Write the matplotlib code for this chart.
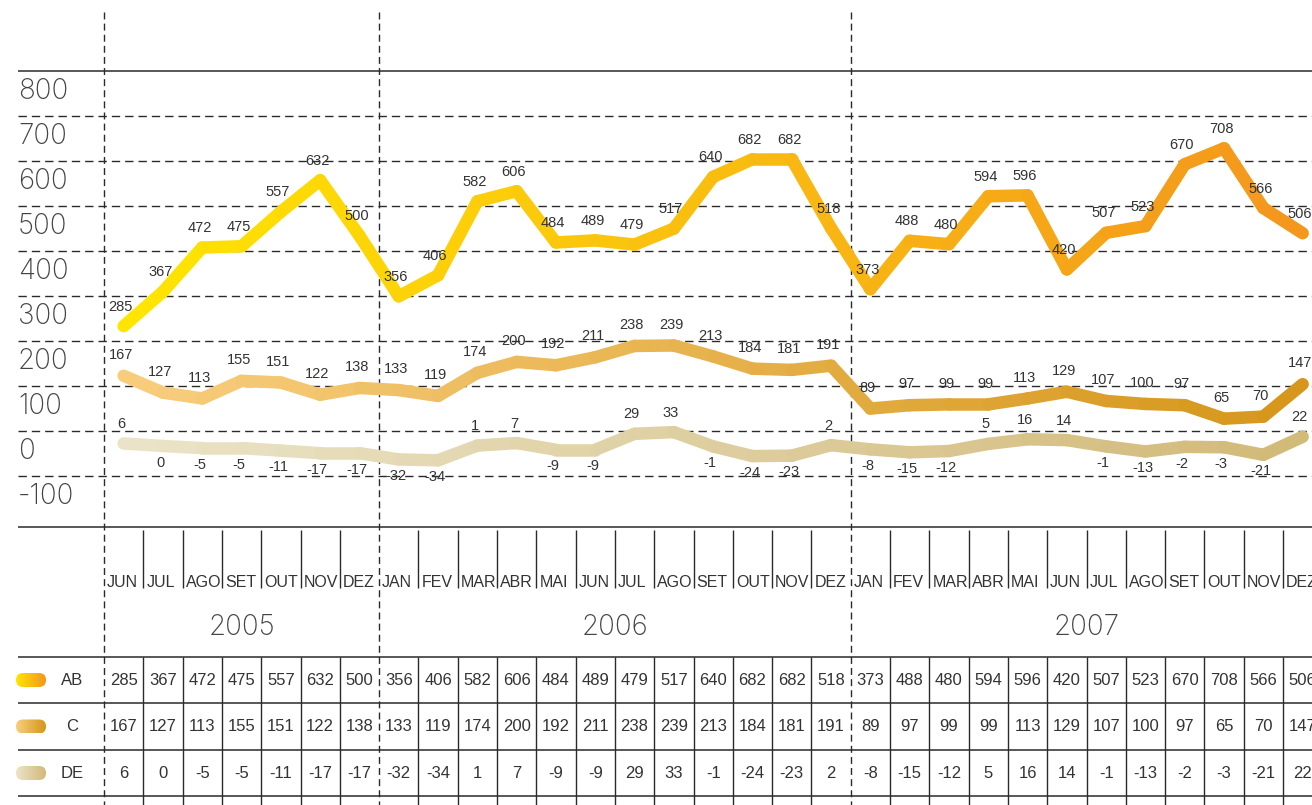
import numpy as np
import matplotlib
matplotlib.use("Agg")
import matplotlib.pyplot as plt
from matplotlib.collections import LineCollection
from matplotlib.patches import FancyBboxPatch
from matplotlib.colors import to_rgb
from matplotlib import font_manager as fm

# ---------------- data ----------------
months = ["JUN", "JUL", "AGO", "SET", "OUT", "NOV", "DEZ",
          "JAN", "FEV", "MAR", "ABR", "MAI", "JUN", "JUL", "AGO", "SET", "OUT", "NOV", "DEZ",
          "JAN", "FEV", "MAR", "ABR", "MAI", "JUN", "JUL", "AGO", "SET", "OUT", "NOV", "DEZ"]
years = ["2005", "2006", "2007"]
year_lengths = [7, 12, 12]
series_names = ["AB", "C", "DE"]
ab = [285, 367, 472, 475, 557, 632, 500,
      356, 406, 582, 606, 484, 489, 479, 517, 640, 682, 682, 518,
      373, 488, 480, 594, 596, 420, 507, 523, 670, 708, 566, 506]
c = [167, 127, 113, 155, 151, 122, 138,
     133, 119, 174, 200, 192, 211, 238, 239, 213, 184, 181, 191,
     89, 97, 99, 99, 113, 129, 107, 100, 97, 65, 70, 147]
de = [6, 0, -5, -5, -11, -17, -17,
      -32, -34, 1, 7, -9, -9, 29, 33, -1, -24, -23, 2,
      -8, -15, -12, 5, 16, 14, -1, -13, -2, -3, -21, 22]
y_ticks = [800, 700, 600, 500, 400, 300, 200, 100, 0, -100]

# ---------------- styling ----------------
grad_start = ["#FFE600", "#F8CE7E", "#EAE4C8"]
grad_end = ["#F3961E", "#D5961A", "#D2B978"]

W, H = 1312, 805
fig = plt.figure(figsize=(W / 100, H / 100), dpi=100)

names = {f.name for f in fm.fontManager.ttflist}
light_font = None
for cand in ["Inter", "Roboto", "Open Sans", "Lato"]:
    for f in fm.fontManager.ttflist:
        try:
            wt = int(f.weight)
        except Exception:
            wt = 400
        if f.name == cand and wt <= 300:
            light_font = cand
            break
    if light_font:
        break
base_font = "Liberation Sans" if "Liberation Sans" in names else "DejaVu Sans"
if light_font is None:
    light_font, light_w = base_font, "normal"
else:
    light_w = "light"
plt.rcParams["font.family"] = [base_font, "DejaVu Sans"]

# column geometry (pixel space of the reference)
col0, colw = 104.0, 39.3
first_center = col0 + colw / 2
xl = (-first_center / colw, (W - first_center) / colw)


def px2x(p):
    return (p - first_center) / colw


def new_axes():
    a = fig.add_axes([0, 0, 1, 1])
    a.set_xlim(*xl)
    a.axis("off")
    a.patch.set_visible(False)
    return a


# layout axes: x = month index, y = pixel rows (top = 0)
lay = new_axes()
lay.set_ylim(H, 0)
# pixel axes for legend swatches
pix = fig.add_axes([0, 0, 1, 1])
pix.axis("off")
pix.patch.set_visible(False)
# grid axes
gax = new_axes()
gax.set_ylim(800 - (H - 71.5) / 0.4494, 800 + 71.5 / 0.4494)
# data axes
ax = new_axes()
ax.set_ylim((446 - H) / 0.4205, 446 / 0.4205)

line_col = "#2a2a2a"
xL, xR = px2x(18), xl[1]

# grid lines
gax.hlines(y_ticks[0], xL, xR, color=line_col, lw=1.1)
gax.hlines(y_ticks[1:], xL, xR, color=line_col, lw=1.0, linestyles=(0, (6, 3.6)))
for v in y_ticks:
    gax.text(px2x(18), v - 45, str(v), ha="left", va="center", fontsize=20,
             color="#444444", family=light_font, fontweight=light_w)

# horizontal solid rules of the table
lay.hlines([527, 657, 703, 750, 796], xL, xR, color=line_col, lw=1.1)

# year boundaries (dashed) and column separators (solid)
year_starts = np.cumsum([0] + year_lengths[:-1])
lay.vlines(year_starts - 0.5, 12, H, color=line_col, lw=1.0, linestyles=(0, (5, 3)))
inner = [i - 0.5 for i in range(len(months)) if i not in set(year_starts)]
inner.append(len(months) - 0.5)
lay.vlines(inner, 530, 588, color=line_col, lw=1.0)
lay.vlines(inner, 657, H, color=line_col, lw=1.0)

# month labels
for i, m in enumerate(months):
    lay.text(i - 0.5 + 3 / colw, 582, m, ha="left", va="center", fontsize=11.5,
             color="#333333")

# year labels
for k, (yr, n) in enumerate(zip(years, year_lengths)):
    s = year_starts[k] - 0.5
    e = min(s + n, xl[1] + 0.25)
    lay.text((s + e) / 2, 627, yr, ha="center", va="center", fontsize=20,
             color="#444444", family=light_font, fontweight=light_w)

# table values
series = [ab, c, de]
row_y = [680, 726.5, 773]
for vals, ry in zip(series, row_y):
    for i, v in enumerate(vals):
        lay.text(i, ry, str(v), ha="center", va="center", fontsize=12, color="#333333")

# legend swatches + names
for name, ry, cs, ce in zip(series_names, row_y, grad_start, grad_end):
    x0, x1, h = 16, 46, 14
    patch = FancyBboxPatch((x0, ry - h / 2), x1 - x0, h,
                           boxstyle="round,pad=0,rounding_size=7",
                           fc="none", ec="none", transform=pix.transData)
    pix.add_patch(patch)
    g = np.linspace(0, 1, 64)
    img = (np.outer(1 - g, to_rgb(cs)) + np.outer(g, to_rgb(ce)))[None, :, :]
    im = pix.imshow(img, extent=(x0, x1, ry + h / 2, ry - h / 2), aspect="auto",
                    interpolation="bilinear", zorder=2)
    im.set_clip_path(patch)
    pix.text(72, ry, name, ha="center", va="center", fontsize=12, color="#333333")
pix.set_xlim(0, W)
pix.set_ylim(H, 0)

# data lines with left-to-right gradient
n = len(months)
xs = np.arange(n)
for vals, cs, ce in zip(series, grad_start, grad_end):
    pts = np.column_stack([xs, vals])
    segs = np.stack([pts[:-1], pts[1:]], axis=1)
    t = (xs[:-1] + 0.5) / (n - 1)
    cols = np.outer(1 - t, to_rgb(cs)) + np.outer(t, to_rgb(ce))
    lc = LineCollection(segs, colors=cols, linewidths=9, capstyle="round",
                        joinstyle="round", zorder=3)
    ax.add_collection(lc)

# point labels
for i, v in enumerate(ab):
    ax.annotate(str(v), (i, v), xytext=(-2, 14), textcoords="offset points",
                ha="center", va="center", fontsize=10.5, color="#333333", zorder=4)
for i, v in enumerate(c):
    ax.annotate(str(v), (i, v), xytext=(-2, 15), textcoords="offset points",
                ha="center", va="center", fontsize=10.5, color="#333333", zorder=4)
for i, v in enumerate(de):
    dy = 14 if v > 0 else -12
    ax.annotate(str(v), (i, v), xytext=(-2, dy), textcoords="offset points",
                ha="center", va="center", fontsize=10.5, color="#333333", zorder=4)

fig.savefig("out.png", dpi=100, facecolor="white")
